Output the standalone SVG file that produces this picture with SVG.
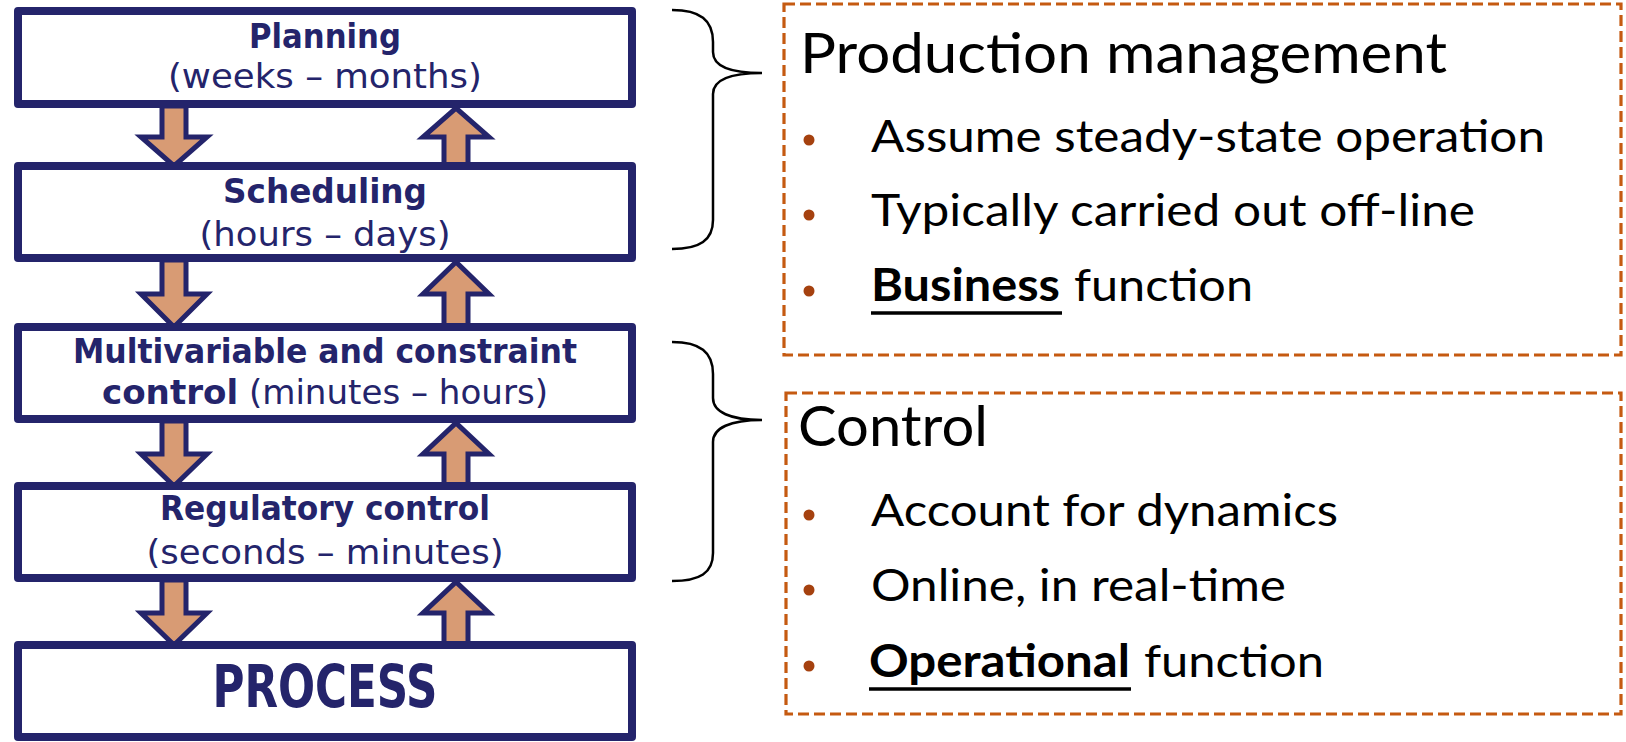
<svg xmlns="http://www.w3.org/2000/svg" width="1626" height="742" viewBox="0 0 1626 742">
  <style>
    .box { fill: #ffffff; stroke: #24246b; stroke-width: 8; stroke-linejoin: round; }
    .arrow { fill: #d89b74; stroke: #24246b; stroke-width: 5; stroke-linejoin: miter; }
    .lt { font-family: "DejaVu Sans Condensed", "DejaVu Sans", sans-serif; font-size: 33px; fill: #24246b; text-anchor: middle; }
    .lb { font-weight: bold; }
    .big { font-size: 58px; }
    .frame { fill: none; stroke: #c55a11; stroke-width: 3.2; stroke-dasharray: 11 5; }
    .brace { fill: none; stroke: #000000; stroke-width: 2.5; }
    .head { font-family: Lato, "Liberation Sans", sans-serif; font-size: 56px; fill: #000000; }
    .item { font-family: Lato, "Liberation Sans", sans-serif; font-size: 45px; fill: #000000; }
    .bold { font-weight: bold; }
    .dot { fill: #a5410f; }
    .ul { stroke: #000000; stroke-width: 3.5; }
  </style>

  <!-- connectors between the hierarchy levels -->
  <g id="connectors">
    <path class="arrow" d="M162,106 L186,106 L186,137 L207,137 L174,166 L141,137 L162,137 Z"/>
    <path class="arrow" d="M444,166 L468,166 L468,137 L489,137 L456,108 L423,137 L444,137 Z"/>
    <path class="arrow" d="M162,260 L186,260 L186,294 L207,294 L174,327 L141,294 L162,294 Z"/>
    <path class="arrow" d="M444,327 L468,327 L468,294 L489,294 L456,262 L423,294 L444,294 Z"/>
    <path class="arrow" d="M162,421 L186,421 L186,454 L207,454 L174,486 L141,454 L162,454 Z"/>
    <path class="arrow" d="M444,486 L468,486 L468,454 L489,454 L456,423 L423,454 L444,454 Z"/>
    <path class="arrow" d="M162,580 L186,580 L186,613 L207,613 L174,645 L141,613 L162,613 Z"/>
    <path class="arrow" d="M444,645 L468,645 L468,613 L489,613 L456,582 L423,613 L444,613 Z"/>
  </g>

  <g id="planning">
    <rect class="box" x="18" y="11" width="614" height="93"/>
    <text class="lt lb" x="325" y="48" textLength="152" lengthAdjust="spacingAndGlyphs">Planning</text>
    <text class="lt" x="325" y="88" textLength="314" lengthAdjust="spacingAndGlyphs">(weeks – months)</text>
  </g>

  <g id="scheduling">
    <rect class="box" x="18" y="166" width="614" height="92"/>
    <text class="lt lb" x="325" y="203" textLength="204" lengthAdjust="spacingAndGlyphs">Scheduling</text>
    <text class="lt" x="325" y="246" textLength="251" lengthAdjust="spacingAndGlyphs">(hours – days)</text>
  </g>

  <g id="multivariable">
    <rect class="box" x="18" y="327" width="614" height="92"/>
    <text class="lt lb" x="325" y="363" textLength="504" lengthAdjust="spacingAndGlyphs">Multivariable and constraint</text>
    <text class="lt" x="325" y="404" textLength="446" lengthAdjust="spacingAndGlyphs"><tspan font-weight="bold">control</tspan> (minutes – hours)</text>
  </g>

  <g id="regulatory">
    <rect class="box" x="18" y="486" width="614" height="92"/>
    <text class="lt lb" x="325" y="520" textLength="330" lengthAdjust="spacingAndGlyphs">Regulatory control</text>
    <text class="lt" x="325" y="564" textLength="357" lengthAdjust="spacingAndGlyphs">(seconds – minutes)</text>
  </g>

  <g id="process">
    <rect class="box" x="18" y="645" width="614" height="92"/>
    <text class="lt lb big" x="325" y="707" textLength="225" lengthAdjust="spacingAndGlyphs">PROCESS</text>
  </g>

  <!-- braces grouping the levels -->
  <g id="brace-production">
    <path class="brace" d="M672,10 C700,10 713,20 713,42 L713,52 C713,66 730,73 762,73 C730,73 713,80 713,94 L713,220 C713,240 700,249 672,249"/>
  </g>
  <g id="brace-control">
    <path class="brace" d="M672,342 C700,342 713,352 713,374 L713,398 C713,412 730,420 762,420 C730,420 713,428 713,442 L713,553 C713,573 700,581 672,581"/>
  </g>

  <g id="production-management">
    <rect class="frame" x="784" y="4" width="837" height="351"/>
    <text class="head" x="800" y="73" textLength="647" lengthAdjust="spacingAndGlyphs">Production management</text>
    <circle class="dot" cx="809" cy="140" r="5.5"/>
    <text class="item" x="871" y="152" textLength="674" lengthAdjust="spacingAndGlyphs">Assume steady-state operation</text>
    <circle class="dot" cx="809" cy="215" r="5.5"/>
    <text class="item" x="871" y="226" textLength="604" lengthAdjust="spacingAndGlyphs">Typically carried out off-line</text>
    <circle class="dot" cx="809" cy="291" r="5.5"/>
    <text class="item bold" x="871" y="301" textLength="189" lengthAdjust="spacingAndGlyphs">Business</text>
    <text class="item" x="1074" y="301" textLength="179" lengthAdjust="spacingAndGlyphs">function</text>
    <line class="ul" x1="871" y1="313" x2="1062" y2="313"/>
  </g>

  <g id="control">
    <rect class="frame" x="786" y="393" width="835" height="321"/>
    <text class="head" x="798" y="446" textLength="190" lengthAdjust="spacingAndGlyphs">Control</text>
    <circle class="dot" cx="809" cy="515" r="5.5"/>
    <text class="item" x="871" y="526" textLength="467" lengthAdjust="spacingAndGlyphs">Account for dynamics</text>
    <circle class="dot" cx="809" cy="590" r="5.5"/>
    <text class="item" x="871" y="601" textLength="415" lengthAdjust="spacingAndGlyphs">Online, in real-time</text>
    <circle class="dot" cx="809" cy="666" r="5.5"/>
    <text class="item bold" x="869" y="677" textLength="261" lengthAdjust="spacingAndGlyphs">Operational</text>
    <text class="item" x="1144" y="677" textLength="180" lengthAdjust="spacingAndGlyphs">function</text>
    <line class="ul" x1="869" y1="689" x2="1131" y2="689"/>
  </g>
</svg>
